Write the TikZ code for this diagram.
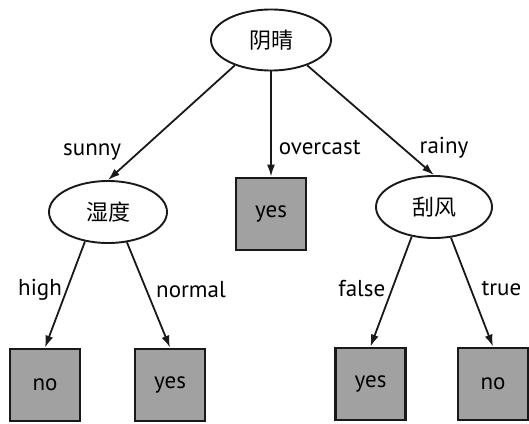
\documentclass[tikz,border=0pt]{standalone}
\usepackage{fontspec}
\setmainfont{PT Sans}
\newfontfamily\cjk{Noto Sans CJK SC}
\usetikzlibrary{arrows.meta, shapes.geometric}

\tikzset{
attr/.style={ellipse, draw=black!90, line width=1.9pt, fill=white, inner sep=0pt, font=\cjk\fontsize{22}{26}\selectfont},
leaf/.style={rectangle, draw=black!90, line width=2.8pt, fill=gray!74, minimum width=70pt, minimum height=72pt, font=\fontsize{23}{27}\selectfont},
branch/.style={->, line width=1.8pt, draw=black!90},
lbl/.style={font=\fontsize{23}{27}\selectfont, inner sep=0pt, text=black}
}

\begin{document}
\begin{tikzpicture}[>={Latex[length=12pt,width=8pt]}, x=1pt, y=-1pt]

\useasboundingbox (0,0) rectangle (529,423);

%\draw[step=50pt,color=gray!40] (0,0) grid (529,423);

\node[attr, minimum width=120pt, minimum height=61pt] (weather) at (271, 40) {阴晴};
\node[attr, minimum width=118pt, minimum height=62pt] (humid) at (108, 212) {湿度};
\node[attr, minimum width=116pt, minimum height=62pt] (windy) at (434, 207) {刮风};

\node[leaf] (yesA) at (271, 214) {yes};
\node[leaf] (noA) at (45, 385) {no};
\node[leaf] (yesB) at (170, 385) {yes};
\node[leaf] (yesC) at (370.5, 384) {yes};
\node[leaf] (noB) at (493, 384) {no};

\draw[branch] (weather.215) -- (humid.north) node[lbl, pos=0.755, left=17pt] {sunny};
\draw[branch] (weather.south) -- (yesA.north) node[lbl, pos=0.72, right=7pt] {overcast};
\draw[branch] (weather.325) -- (windy.north) node[lbl, pos=0.754, right=16pt] {rainy};

\draw[branch] (humid.232) -- (noA.north) node[lbl, pos=0.455, left=4pt] {high};
\draw[branch] (humid.302) -- (yesB.north) node[lbl, pos=0.45, right=9pt] {normal};

\draw[branch] (windy.233) -- (yesC.north) node[lbl, pos=0.474, left=6pt] {false};
\draw[branch] (windy.299) -- (noB.north) node[lbl, pos=0.469, right=10pt] {true};

\end{tikzpicture}
\end{document}
